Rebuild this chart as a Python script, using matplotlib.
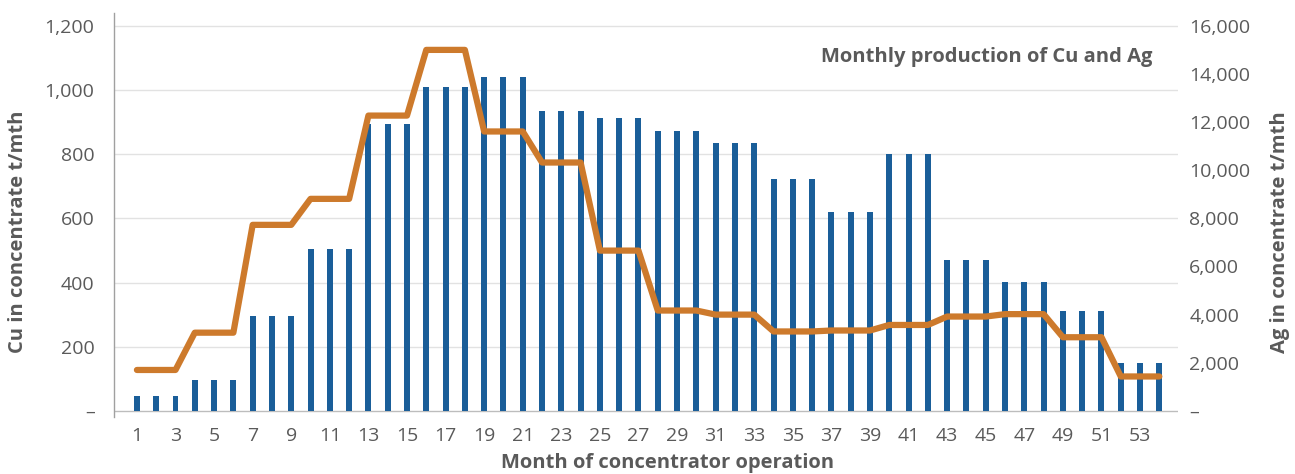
import numpy as np
import matplotlib.pyplot as plt
from matplotlib.ticker import FuncFormatter

plt.rcParams['font.family'] = ['Open Sans', 'DejaVu Sans']

# monthly values, each level held for three months
months = np.arange(1, 55)
cu_levels = [45, 97, 297, 505, 894, 1010, 1040, 936, 914, 872, 834, 724, 620, 799, 469, 402, 311, 150]
ag_levels = [1700, 3250, 7730, 8810, 12270, 15000, 11610, 10320, 6660, 4170, 4000, 3300, 3340, 3570, 3920, 4020, 3060, 1430]
cu = np.repeat(cu_levels, 3)
ag = np.repeat(ag_levels, 3)

bar_color = '#1A5E99'
line_color = '#CD7A2C'
text_gray = '#5a5a5a'
grid_gray = '#e2e2e2'

fig = plt.figure(figsize=(12.95, 4.74), dpi=100)
ax = fig.add_axes([0.088, 0.1203, 0.8217, 0.8523])
ax2 = ax.twinx()

ax.bar(months, cu, width=0.31, color=bar_color, zorder=2)
ax2.plot(months, ag, color=line_color, linewidth=4.5, solid_capstyle='round',
         solid_joinstyle='round', zorder=3)

ax.set_xlim(-0.19, 54.97)
ax.set_ylim(-19, 1240)
ax2.set_ylim(-19 * 16000 / 1200, 1240 * 16000 / 1200)

ax.set_yticks(np.arange(0, 1201, 200))
ax2.set_yticks(np.arange(0, 16001, 2000))
fmt = FuncFormatter(lambda v, p: '–' if v == 0 else f'{int(v):,}')
ax.yaxis.set_major_formatter(fmt)
ax2.yaxis.set_major_formatter(fmt)
ax.set_xticks(months[::2])

for v in np.arange(200, 1201, 200):
    ax.axhline(v, color=grid_gray, linewidth=1, zorder=0)
ax.axhline(0, color='#bdbdbd', linewidth=1, zorder=1)

for s in ['top', 'right', 'bottom']:
    ax.spines[s].set_visible(False)
for s in ax2.spines.values():
    s.set_visible(False)
ax.spines['left'].set_color('#a0a0a0')
ax.spines['left'].set_linewidth(1)

ax.tick_params(axis='both', length=0, labelsize=14, labelcolor=text_gray)
ax.tick_params(axis='y', pad=14)
ax.tick_params(axis='x', pad=7)
ax2.tick_params(axis='y', length=0, labelsize=14, labelcolor=text_gray, pad=8)

# axis titles placed in figure pixels
W, H = 1295, 474
lab = dict(fontsize=14.5, fontweight='bold', color=text_gray, ha='center', va='center')
fig.text(18 / W, 1 - 232 / H, 'Cu in concentrate t/mth', rotation=90, **lab)
fig.text(1280 / W, 1 - 232 / H, 'Ag in concentrate t/mth', rotation=90, **lab)
fig.text(668 / W, 1 - 463 / H, 'Month of concentrator operation', **lab)

ax.text(0.976, 0.89, 'Monthly production of Cu and Ag', transform=ax.transAxes,
        ha='right', va='center', fontsize=14.5, fontweight='bold', color=text_gray)

plt.savefig('out.png', dpi=100)
